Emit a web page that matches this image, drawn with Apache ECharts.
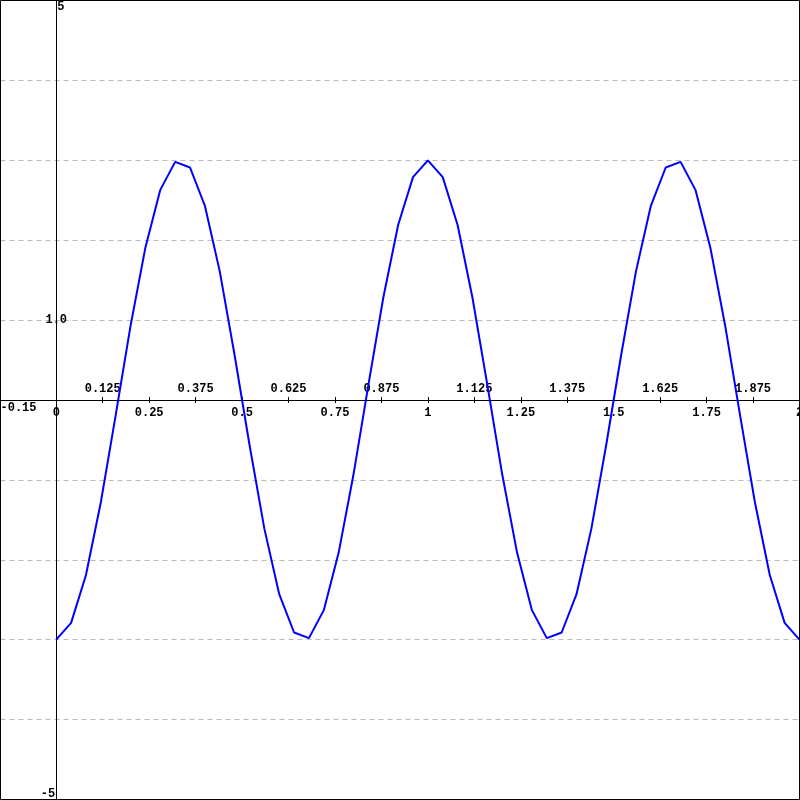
<!DOCTYPE html>
<html><head><meta charset="utf-8">
<script src="https://cdn.jsdelivr.net/npm/echarts@6/dist/echarts.min.js"></script>
<style>html,body{margin:0;padding:0;background:#fff}#c{width:800px;height:800px}</style>
</head><body><div id="c"></div>
<script>
// sampled curve
const xValues = [0,0.04,0.08,0.12,0.16,0.2,0.24,0.28,0.32,0.36,0.4,0.44,0.48,0.52,0.56,0.6,0.64,0.68,0.72,0.76,0.8,0.84,0.88,0.92,0.96,1,1.04,1.08,1.12,1.16,1.2,1.24,1.28,1.32,1.36,1.4,1.44,1.48,1.52,1.56,1.6,1.64,1.68,1.72,1.76,1.8,1.84,1.88,1.92,1.96,2];
const yValues = [-3,-2.79,-2.19,-1.28,-0.19,0.93,1.91,2.63,2.98,2.91,2.43,1.61,0.56,-0.56,-1.61,-2.43,-2.91,-2.98,-2.63,-1.91,-0.93,0.19,1.28,2.19,2.79,3,2.79,2.19,1.28,0.19,-0.93,-1.91,-2.63,-2.98,-2.91,-2.43,-1.61,-0.56,0.56,1.61,2.43,2.91,2.98,2.63,1.91,0.93,-0.19,-1.28,-2.19,-2.79,-3];
// tick labels
const xLabelsBelow = [0,0.25,0.5,0.75,1,1.25,1.5,1.75,2];
const xLabelsAbove = [0.125,0.375,0.625,0.875,1.125,1.375,1.625,1.875];
const xTickMarks = [0.125,0.25,0.375,0.5,0.625,0.75,0.875,1,1.125,1.25,1.375,1.5,1.625,1.75,1.875];
const xMinLabel = [-0.15];
const yLabelTop = [5];
const yLabelMid = [1];
const yLabelBottom = [-5];
const xMin = -0.15, xMax = 2, yMin = -5, yMax = 5;

const font = {fontFamily:'Liberation Mono', fontWeight:'bold', fontSize:12, color:'#000'};
const black = {color:'#000', width:1};
const GL = 0.5, GT = 0.5, GW = 799, GH = 799;

function xAx(extra){
  return Object.assign({type:'value', min:xMin, max:xMax, splitLine:{show:false},
    axisLine:{show:true, onZero:false, lineStyle:black},
    axisTick:{show:false}}, extra);
}
function yAx(extra){
  return Object.assign({type:'value', min:yMin, max:yMax, interval:1, splitLine:{show:false},
    axisLine:{show:true, onZero:false, lineStyle:black},
    axisTick:{show:false}}, extra);
}

const chart = echarts.init(document.getElementById('c'), null, {renderer:'canvas'});
const option = {
  animation:false,
  backgroundColor:'#fff',
  grid:{left:GL, top:GT, width:GW, height:GH, containLabel:false, outerBoundsMode:'none', show:true, borderColor:'#000', borderWidth:1, backgroundColor:'transparent', z:10},
  xAxis:[
    xAx({position:'bottom',
      axisTick:{show:true, customValues:xTickMarks, length:3, lineStyle:black},
      axisLabel:Object.assign({customValues:xLabelsBelow, margin:7, formatter:v=>String(v)}, font)}),
    xAx({position:'top',
      axisTick:{show:true, customValues:xTickMarks, length:3, lineStyle:black},
      axisLabel:Object.assign({customValues:xLabelsAbove, margin:5, formatter:v=>String(v)}, font)}),
    xAx({position:'bottom',
      axisLabel:Object.assign({customValues:xMinLabel, margin:2, align:'left', formatter:v=>String(v)}, font)})
  ],
  yAxis:[
    yAx({position:'left',
      splitLine:{show:true, showMinLine:false, showMaxLine:false, lineStyle:{color:'#bbbbbb', type:[5,4], width:1}},
      axisLabel:Object.assign({customValues:yLabelBottom, margin:1, align:'right', verticalAlign:'bottom', formatter:v=>String(v)}, font)}),
    yAx({position:'left',
      axisLabel:Object.assign({customValues:yLabelTop, inside:true, margin:1, align:'left', verticalAlign:'top', formatter:v=>String(v)}, font)}),
    yAx({position:'left',
      axisLabel:Object.assign({customValues:yLabelMid, margin:0, align:'center', verticalAlign:'middle', formatter:v=>v.toFixed(1)}, font)})
  ],
  series:[{
    type:'line', xAxisIndex:0, yAxisIndex:0,
    data:xValues.map((x,i)=>[x, yValues[i]]),
    showSymbol:false, symbol:'none',
    lineStyle:{color:'#0000ff', width:2}, itemStyle:{color:'#0000ff'},
    silent:true, clip:true
  }]
};
chart.setOption(option);
// move axes onto the zero lines using the library's own scales
const zeroX = chart.convertToPixel({xAxisIndex:0}, 0);
const zeroY = chart.convertToPixel({yAxisIndex:0}, 0);
const offX = -(GT + GH - zeroY);   // bottom axes move up
const offXTop = -(zeroY - GT);     // top axis moves down
const offY = -(zeroX - GL);        // left axes move right
chart.setOption({
  xAxis:[{offset:offX},{offset:offXTop},{offset:offX}],
  yAxis:[{offset:offY},{offset:offY},{offset:offY}]
});
</script></body></html>
